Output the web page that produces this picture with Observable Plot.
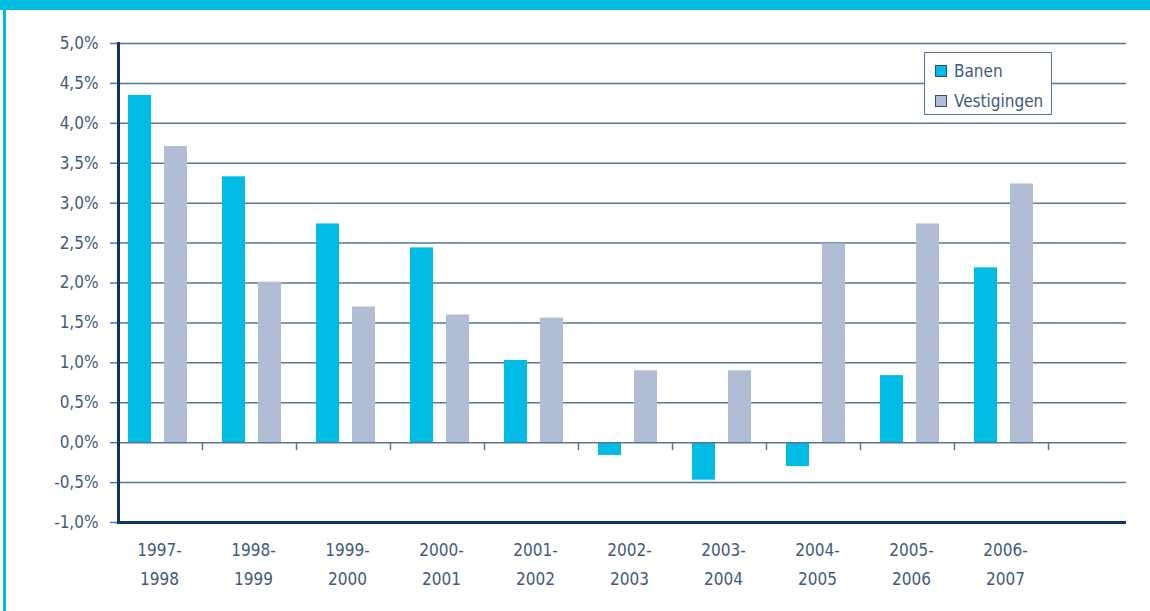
<!DOCTYPE html>
<html>
<head>
<meta charset="utf-8">
<script src="https://cdn.jsdelivr.net/npm/d3@7"></script>
<script src="https://cdn.jsdelivr.net/npm/@observablehq/plot@0.6"></script>
<style>
  html, body { margin: 0; padding: 0; background: #fff; }
  #wrap { position: relative; width: 1150px; height: 611px; overflow: hidden; background: #fff; }
  #topband { position: absolute; left: 0; top: 0; width: 1150px; height: 10px; background: #00bce4; }
  #leftband { position: absolute; left: 3px; top: 0; width: 3px; height: 611px; background: #00bce4; }
  #chart { position: absolute; left: 0; top: 0; }
  #legend { position: absolute; left: 924px; top: 52px; width: 128px; height: 63px; box-sizing: border-box;
    border: 1.5px solid #5d7594; background: #fff;
    font-family: "DejaVu Sans Condensed", sans-serif; font-size: 17px; color: #3f5a7e; }
  #legend .item { position: absolute; left: 10px; display: flex; align-items: center; line-height: 20px; }
  #legend .sw { width: 12px; height: 12px; border: 1px solid #2e4f78; margin-right: 7px; box-sizing: border-box; }
</style>
</head>
<body>
<div id="wrap">
  <div id="topband"></div>
  <div id="leftband"></div>
  <div id="chart"></div>
  <div id="legend"></div>
</div>
<script>
const periods = ["1997-\n1998","1998-\n1999","1999-\n2000","2000-\n2001","2001-\n2002","2002-\n2003","2003-\n2004","2004-\n2005","2005-\n2006","2006-\n2007"];
const banen = [4.35, 3.33, 2.74, 2.44, 1.03, -0.16, -0.47, -0.30, 0.84, 2.19];
const vestigingen = [3.71, 2.01, 1.70, 1.60, 1.56, 0.90, 0.90, 2.49, 2.74, 3.24];
const seriesNames = ["Banen", "Vestigingen"];
const seriesColors = ["#00bce4", "#b1bcd5"];
const yTicks = [-1, -0.5, 0, 0.5, 1, 1.5, 2, 2.5, 3, 3.5, 4, 4.5, 5];
const gridTicks = [-0.5, 0.5, 1, 1.5, 2, 2.5, 3, 3.5, 4, 4.5, 5];

const fmt = d => d.toFixed(1).replace(".", ",") + "%";
const rowsB = periods.map((p, i) => ({period: p, value: banen[i]}));
const rowsV = periods.map((p, i) => ({period: p, value: vestigingen[i]}));

const font = `"DejaVu Sans Condensed", sans-serif`;
const grid = "#57769a";
const navy = "#0e3564";

const plot = Plot.plot({
  width: 1150,
  height: 611,
  marginLeft: 118,
  marginRight: 24,
  marginTop: 43,
  marginBottom: 89,
  style: {fontFamily: font, fontSize: "17px", color: "#3f5a7e", background: "transparent"},
  x: {domain: periods, range: [108, 1048], padding: 0},
  y: {domain: [-1, 5]},
  marks: [
    Plot.ruleY(gridTicks, {stroke: grid, strokeWidth: 1.5}),
    Plot.axisY(yTicks, {tickSize: 8, tickPadding: 12, tickFormat: fmt, stroke: grid, strokeWidth: 1.5, label: null, fontSize: 17}),
    Plot.barY(rowsB, {x: "period", y: "value", fill: seriesColors[0], insetLeft: 20, insetRight: 51}),
    Plot.barY(rowsV, {x: "period", y: "value", fill: seriesColors[1], insetLeft: 56, insetRight: 15}),
    Plot.ruleY([0], {stroke: grid, strokeWidth: 1.5}),
    Plot.ruleX(periods, {x: d => d, y1: 0, y2: 0, dx: 47, insetBottom: -8, stroke: grid, strokeWidth: 1.5}),
    Plot.axisX({tickSize: 0, tickPadding: 12, lineHeight: 1.75, dx: 4, label: null, fontSize: 17}),
    Plot.ruleY([-1], {stroke: navy, strokeWidth: 3}),
    Plot.frame({anchor: "left", stroke: navy, strokeWidth: 3})
  ]
});
document.getElementById("chart").appendChild(plot);

const legend = document.getElementById("legend");
seriesNames.forEach((name, i) => {
  const item = document.createElement("div");
  item.className = "item";
  item.style.top = (8 + i * 30) + "px";
  const sw = document.createElement("div");
  sw.className = "sw";
  sw.style.background = seriesColors[i];
  const t = document.createElement("span");
  t.textContent = name;
  item.appendChild(sw);
  item.appendChild(t);
  legend.appendChild(item);
});
</script>
</body>
</html>
